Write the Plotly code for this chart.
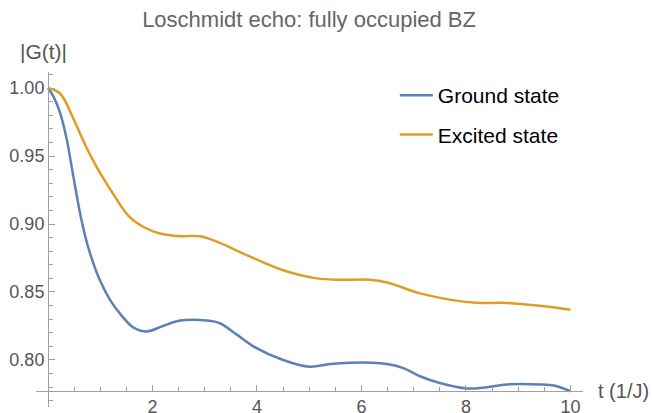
import plotly.graph_objects as go

# |G(t)|
t_ground = [0, 0.1, 0.23, 0.36, 0.48, 0.64, 0.8, 1.0, 1.19, 1.4, 1.63, 1.89, 2.2, 2.53,
            3.04, 3.29, 3.6, 3.93, 4.5, 5.01, 5.4, 5.78, 6.2, 6.49, 6.8, 7.12, 7.5,
            8.02, 8.4, 8.78, 9.41, 9.7, 10.0]
g_ground = [1.0, 0.994, 0.982, 0.962, 0.936, 0.903, 0.879, 0.858, 0.844, 0.833, 0.824,
            0.821, 0.825, 0.829, 0.829, 0.827, 0.819, 0.810, 0.800, 0.795, 0.797, 0.798,
            0.798, 0.797, 0.794, 0.788, 0.783, 0.779, 0.780, 0.782, 0.782, 0.781, 0.777]

t_excited = [0, 0.23, 0.48, 0.69, 0.93, 1.25, 1.54, 1.82, 2.14, 2.53, 2.91, 3.23, 3.87,
             4.5, 5.15, 5.6, 6.16, 6.49, 7.12, 7.75, 8.2, 8.71, 9.36, 10.0]
g_excited = [1.0, 0.996, 0.978, 0.960, 0.942, 0.922, 0.906, 0.898, 0.893, 0.891, 0.891,
             0.887, 0.876, 0.866, 0.860, 0.859, 0.859, 0.857, 0.849, 0.844, 0.842, 0.842,
             0.840, 0.837]

x_ticks = [2, 4, 6, 8, 10]
y_ticks = [0.80, 0.85, 0.90, 0.95, 1.00]

xr = [-0.23, 10.24]
yr = [0.7654, 1.0118]
x_cross = 0.7774  # where the t axis sits

font = "Liberation Sans, Arial, sans-serif"
axcol = "#a0a0a0"
txtcol = "#555555"

fig = go.Figure()
fig.add_trace(go.Scatter(x=t_ground, y=g_ground, mode="lines", name="Ground state",
                         legendgroup="a",
                         line=dict(color="#5E81B5", width=2.5, shape="spline", smoothing=1)))
fig.add_trace(go.Scatter(x=t_excited, y=g_excited, mode="lines", name="Excited state",
                         legendgroup="b",
                         line=dict(color="#E19C24", width=2.5, shape="spline", smoothing=1)))

fig.update_layout(
    width=652, height=413,
    margin=dict(l=36, r=69, t=72, b=6),
    paper_bgcolor="white", plot_bgcolor="white",
    font=dict(family=font, size=18, color=txtcol),
    title=dict(text="Loschmidt echo: fully occupied BZ", x=0.474, xanchor="center",
               y=0.954, yanchor="middle", font=dict(size=22, color="#666666")),
    showlegend=True,
    legend=dict(x=0.656, y=0.991, xanchor="left", yanchor="top", bgcolor="rgba(0,0,0,0)",
                font=dict(size=21, color="black"), traceorder="grouped",
                tracegroupgap=9, itemwidth=33),
    xaxis=dict(range=xr, anchor="free", automargin=False,
               position=(x_cross - yr[0]) / (yr[1] - yr[0]),
               showgrid=False, zeroline=False, showline=True, linecolor=axcol, linewidth=1,
               tickmode="array", tickvals=x_ticks, ticks="inside", ticklen=6,
               tickcolor=axcol, tickfont=dict(size=18, color=txtcol),
               minor=dict(tickmode="linear", tick0=0, dtick=0.5, ticks="inside",
                          ticklen=4, tickcolor=axcol)),
    yaxis=dict(range=yr, anchor="free", automargin=False,
               position=(0 - xr[0]) / (xr[1] - xr[0]),
               showgrid=False, zeroline=False, showline=True, linecolor=axcol, linewidth=1,
               tickmode="array", tickvals=y_ticks, tickformat=".2f", ticks="inside",
               ticklen=6, tickcolor=axcol, tickfont=dict(size=18, color=txtcol),
               minor=dict(tickmode="linear", tick0=0, dtick=0.01, ticks="inside",
                          ticklen=4, tickcolor=axcol)),
    annotations=[
        dict(text="|G(t)|", x=0, xref="x", xshift=-5, y=1.06, yref="paper",
             xanchor="center", yanchor="middle", showarrow=False,
             font=dict(size=21, color=txtcol)),
        dict(text="t (1/J)", x=1.0238, xref="paper", y=x_cross, yref="y", xanchor="left",
             yanchor="middle", showarrow=False, font=dict(size=20, color=txtcol)),
    ],
)

# drop the browser's default 8px body margin so the figure fills the window
fig.write_html("out.html", config={"displayModeBar": False},
               post_script="document.body.style.margin='0';document.body.style.overflow='hidden';")
